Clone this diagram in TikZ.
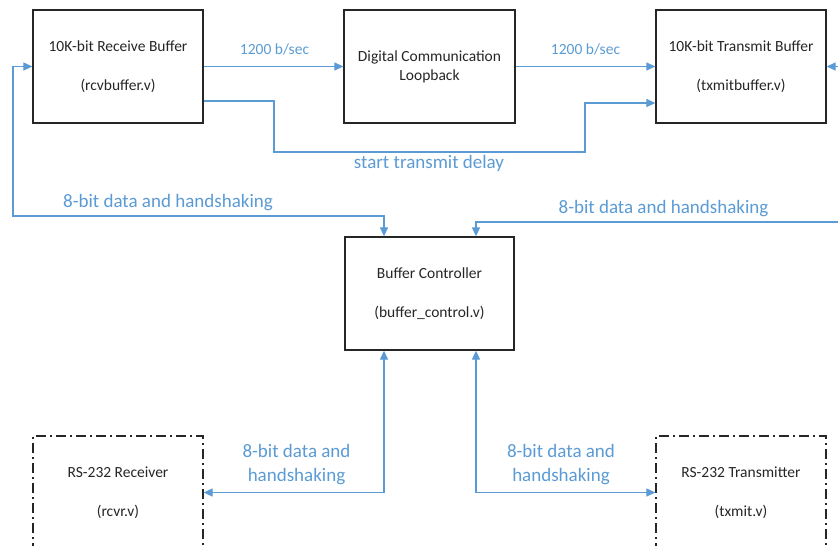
\documentclass[tikz,border=0pt]{standalone}
\usepackage{fontspec}
\setmainfont{Carlito}
\usetikzlibrary{arrows.meta,calc}
\definecolor{lineblue}{HTML}{5B9BD5}
\definecolor{boxline}{HTML}{262626}
\begin{document}
\begin{tikzpicture}[x=1pt,y=-1pt,
  box/.style={draw=boxline, line width=1.3pt, fill=white, minimum width=170pt,
    minimum height=113pt, align=center, text=black!85, inner sep=0pt,
    font=\fontsize{15.5}{39}\selectfont},
  dbox/.style={box, dash pattern=on 10pt off 4pt on 2pt off 4pt},
  conn/.style={draw=lineblue, line width=1.2pt},
  arr/.style={-{Triangle[length=9pt,width=8pt]}},
  biarr/.style={{Triangle[length=9pt,width=8pt]}-{Triangle[length=9pt,width=8pt]}},
  biglbl/.style={text=lineblue, font=\fontsize{19}{23}\selectfont, inner sep=0pt},
  smalllbl/.style={text=lineblue, font=\fontsize{15.5}{18}\selectfont, inner sep=0pt}]
\useasboundingbox (0,0) rectangle (838,546);
\clip (0,0) rectangle (838,546);
\fill[white] (0,0) rectangle (838,546);

% boxes
\node[box] (rcv) at (118,66.5) {10K-bit Receive Buffer\\(rcvbuffer.v)};
\node[box, minimum width=171pt, font=\fontsize{15.5}{19}\selectfont] (loop) at (429.5,66.5) {Digital Communication\\Loopback};
\node[box] (tx) at (741,66.5) {10K-bit Transmit Buffer\\(txmitbuffer.v)};
\node[box, minimum width=169pt] (ctrl) at (429.5,293.5) {Buffer Controller\\(buffer\_control.v)};
\node[dbox] (rcvr) at (118,492.5) {RS-232 Receiver\\(rcvr.v)};
\node[dbox] (txr) at (741,492.5) {RS-232 Transmitter\\(txmit.v)};

% helper coordinates
\coordinate (yA) at (0,101);
\coordinate (yB) at (0,103);
\coordinate (d1) at (274,152);
\coordinate (d2) at (585,152);
\coordinate (l1) at (13,216);
\coordinate (cTL) at (384,0);
\coordinate (cTR) at (476,0);
\coordinate (rEnd) at (845,66.5);
\coordinate (rEnd2) at (845,222);

% top connectors
\draw[conn,arr] (rcv.east) -- (loop.west);
\draw[conn,arr] (loop.east) -- (tx.west);
\draw[conn,arr] (rcv.east |- yA) -| (d1) -- (d2) |- (tx.west |- yB);
\draw[conn,arr] (rEnd) -- (tx.east);

% data & handshaking to controller
\draw[conn,biarr] (rcv.west) -| (l1) -| (ctrl.north -| cTL);
\draw[conn,arr] (rEnd2) -| (ctrl.north -| cTR);

% bottom connectors
\draw[conn,biarr] (ctrl.south -| cTL) |- (rcvr.east);
\draw[conn,biarr] (ctrl.south -| cTR) |- (txr.west);

% labels
\node[smalllbl] (r1) at (274.5,49) {1200 b/sec};
\node[smalllbl] (r2) at (585.5,49) {1200 b/sec};
\node[biglbl] (sd) at (429,163) {start transmit delay};
\node[biglbl] (h1) at (168,203) {8-bit data and handshaking};
\node[biglbl] (h2) at (663.5,209) {8-bit data and handshaking};
\node[biglbl, align=center, font=\fontsize{19}{24}\selectfont] (h3) at (296.5,465) {8-bit data and\\handshaking};
\node[biglbl, align=center, font=\fontsize{19}{24}\selectfont] (h4) at (561,465) {8-bit data and\\handshaking};
\end{tikzpicture}
\end{document}
